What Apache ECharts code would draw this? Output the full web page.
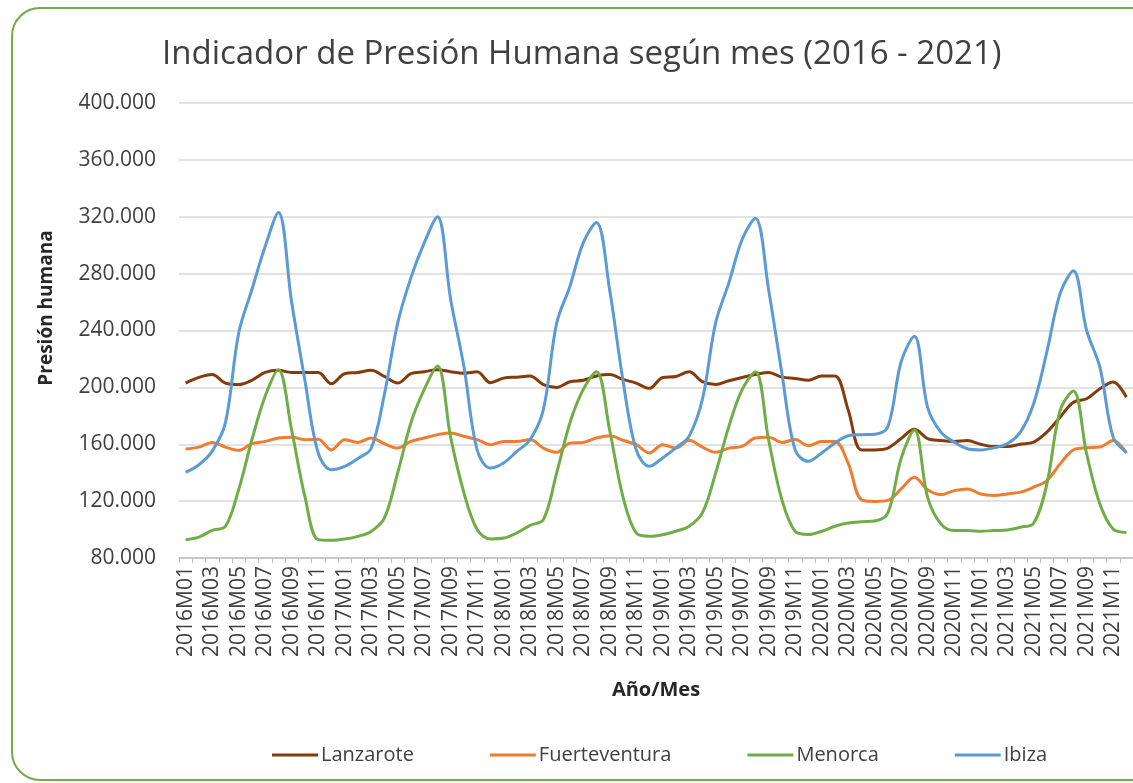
<!DOCTYPE html>
<html>
<head>
<meta charset="utf-8">
<script src="https://cdn.jsdelivr.net/npm/echarts@6/dist/echarts.min.js"></script>
<style>
  html, body { margin: 0; padding: 0; background: #fff; overflow: hidden; }
  #chart { width: 1133px; height: 783px; }
</style>
</head>
<body>
<div id="chart"></div>
<script>
// meses 2016M01 .. 2021M12
const categories = [
  '2016M01','2016M02','2016M03','2016M04','2016M05','2016M06','2016M07','2016M08','2016M09','2016M10','2016M11','2016M12',
  '2017M01','2017M02','2017M03','2017M04','2017M05','2017M06','2017M07','2017M08','2017M09','2017M10','2017M11','2017M12',
  '2018M01','2018M02','2018M03','2018M04','2018M05','2018M06','2018M07','2018M08','2018M09','2018M10','2018M11','2018M12',
  '2019M01','2019M02','2019M03','2019M04','2019M05','2019M06','2019M07','2019M08','2019M09','2019M10','2019M11','2019M12',
  '2020M01','2020M02','2020M03','2020M04','2020M05','2020M06','2020M07','2020M08','2020M09','2020M10','2020M11','2020M12',
  '2021M01','2021M02','2021M03','2021M04','2021M05','2021M06','2021M07','2021M08','2021M09','2021M10','2021M11','2021M12'
];

// Presión humana por isla (una fila por año)
const lanzarote = [
  203000, 207000, 209000, 203000, 202000, 205000, 210500, 212000, 210500, 210500, 210500, 202600,
  209600, 210500, 212000, 207700, 203000, 209600, 211000, 212400, 211000, 210000, 211000, 203300,
  206500, 207200, 208000, 202000, 200000, 204000, 205000, 208000, 209000, 205600, 203000, 199300,
  207000, 207700, 211000, 204000, 202000, 204700, 207000, 209000, 210500, 207200, 206300, 205000,
  208000, 208000, 184300, 156000, 156000, 157300, 164000, 170500, 164000, 162600, 162000, 162600,
  160000, 158400, 158400, 160000, 161500, 168500, 179000, 189600, 192000, 199000, 203700, 193100
];
const fuerteventura = [
  156600, 158000, 161300, 158000, 155700, 160400, 162000, 164400, 165000, 163200, 163600, 156000,
  163200, 161300, 164400, 160400, 157300, 162000, 164400, 166700, 168000, 165600, 163300, 159700,
  162000, 162000, 163300, 157300, 154300, 160800, 161300, 164400, 166000, 162800, 159700, 153900,
  159700, 157300, 162800, 158000, 154300, 157300, 158500, 164400, 165000, 161300, 163300, 159000,
  162000, 162000, 146700, 121000, 119800, 120500, 128600, 136800, 128000, 124600, 127400, 128600,
  125000, 124000, 125000, 126300, 129800, 134500, 146200, 156000, 157500, 158000, 162600, 153700
];
const menorca = [
  92900, 94700, 99400, 102200, 128000, 163000, 193700, 212400, 170000, 123300, 92900, 92400,
  93300, 95200, 98700, 108000, 139700, 175000, 198400, 215000, 165000, 126000, 100000, 93400,
  94000, 97700, 103000, 107000, 139700, 175000, 198400, 211000, 170000, 123300, 97700, 95300,
  96400, 98800, 102300, 111700, 139700, 172600, 198400, 211000, 163000, 121000, 98800, 96500,
  98800, 102300, 104600, 105500, 106000, 111700, 150000, 170000, 122700, 104000, 99300, 99300,
  98800, 99300, 99700, 101600, 104400, 132000, 183800, 197400, 153300, 118000, 100400, 98000
];
const ibiza = [
  140200, 145600, 155000, 175000, 238000, 268700, 299000, 323000, 260000, 205000, 154000, 142000,
  144400, 150000, 157000, 195000, 245000, 277000, 301500, 320000, 262000, 214800, 156000, 143300,
  146800, 155000, 163200, 184300, 245000, 271000, 301500, 316000, 268700, 205400, 156300, 144500,
  150400, 157500, 165700, 191500, 245400, 273500, 304000, 319000, 268700, 210000, 156000, 148000,
  153800, 160800, 166000, 166700, 167000, 172400, 218000, 236000, 186000, 168500, 161500, 156800,
  156000, 157500, 160300, 168500, 188500, 225000, 266000, 282000, 240000, 214300, 165000, 154400
];

const FONT = '"Open Sans", "Noto Sans", sans-serif';

// separador de miles con punto: 400000 -> 400.000
function fmtMiles(v) {
  return String(v).replace(/\B(?=(\d{3})+(?!\d))/g, '.');
}

function lineSerie(name, data, color) {
  return {
    name: name,
    type: 'line',
    data: data,
    smooth: 0.35,
    symbol: 'none',
    legendIcon: 'rect',
    lineStyle: { color: color, width: 3 },
    itemStyle: { color: color }
  };
}

const chart = echarts.init(document.getElementById('chart'));

chart.setOption({
  animation: false,
  backgroundColor: '#fff',
  title: {
    text: 'Indicador de Presión Humana según mes (2016 - 2021)',
    left: 162,
    top: 38,
    padding: 0,
    textStyle: { fontFamily: FONT, fontSize: 33, fontWeight: 'normal', color: '#404040' }
  },
  legend: {
    data: ['Lanzarote', 'Fuerteventura', 'Menorca', 'Ibiza'],
    left: 272,
    top: 745,
    padding: 0,
    icon: 'rect',
    itemWidth: 46,
    itemHeight: 3,
    itemGap: 76,
    textStyle: { fontFamily: FONT, fontSize: 20, color: '#404040', padding: [0, 0, 0, -2] }
  },
  grid: { left: 179, top: 103, width: 955, height: 455 },
  xAxis: {
    type: 'category',
    data: categories,
    boundaryGap: true,
    axisLine: { lineStyle: { color: '#BFBFBF', width: 1.5 } },
    axisTick: { show: true, interval: 0, length: 5, lineStyle: { color: '#BFBFBF' } },
    axisLabel: {
      interval: 1,
      rotate: 90,
      margin: 8,
      fontFamily: FONT,
      fontSize: 21,
      color: '#404040'
    },
    splitLine: { show: false }
  },
  yAxis: {
    type: 'value',
    min: 80000,
    max: 400000,
    interval: 40000,
    axisLine: { show: false },
    axisTick: { show: false },
    axisLabel: {
      margin: 23,
      fontFamily: FONT,
      fontSize: 21,
      color: '#404040',
      formatter: fmtMiles
    },
    splitLine: { lineStyle: { color: '#D9D9D9', width: 1.5 } }
  },
  graphic: [
    {
      type: 'rect',
      silent: true,
      shape: { x: 12, y: 8, width: 1160, height: 772, r: 28 },
      style: { fill: 'none', stroke: '#70AD47', lineWidth: 2 }
    },
    {
      type: 'text',
      x: 656,
      y: 690,
      style: {
        text: 'Año/Mes',
        font: 'bold 20px ' + FONT,
        fill: '#262626',
        align: 'center',
        verticalAlign: 'middle'
      }
    },
    {
      type: 'text',
      x: 47,
      y: 308,
      rotation: Math.PI / 2,
      style: {
        text: 'Presión humana',
        font: 'bold 19px ' + FONT,
        fill: '#262626',
        align: 'center',
        verticalAlign: 'middle'
      }
    }
  ],
  series: [
    lineSerie('Lanzarote', lanzarote, '#843C0C'),
    lineSerie('Fuerteventura', fuerteventura, '#ED7D31'),
    lineSerie('Menorca', menorca, '#70AD47'),
    lineSerie('Ibiza', ibiza, '#5B9BD5')
  ]
});
</script>
</body>
</html>
